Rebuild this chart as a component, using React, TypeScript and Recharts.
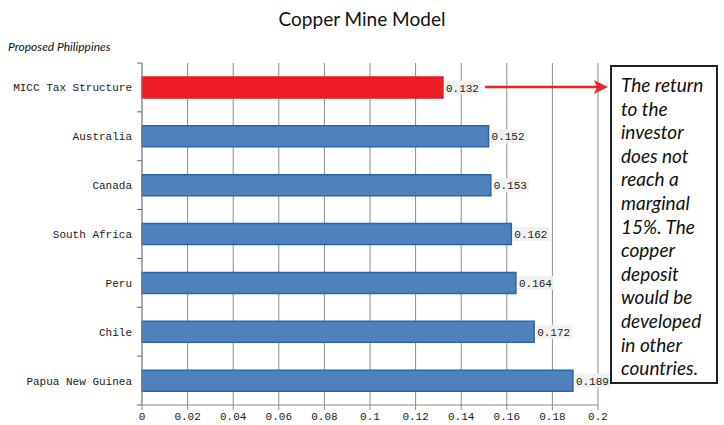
import { BarChart, Bar, XAxis, YAxis, CartesianGrid, Cell, LabelList } from 'recharts';

const countries = [
  'MICC Tax Structure',
  'Australia',
  'Canada',
  'South Africa',
  'Peru',
  'Chile',
  'Papua New Guinea',
];
const returns = [0.132, 0.152, 0.153, 0.162, 0.164, 0.172, 0.189];
const xTicks = [0, 0.02, 0.04, 0.06, 0.08, 0.1, 0.12, 0.14, 0.16, 0.18, 0.2];
const noteLines = [
  'The return',
  'to the',
  'investor',
  'does not',
  'reach a',
  'marginal',
  '15%. The',
  'copper',
  'deposit',
  'would be',
  'developed',
  'in other',
  'countries.',
];

const data = countries.map((name, i) => ({ name, value: returns[i] }));

const monoFont = '"Liberation Mono", "DejaVu Sans Mono", monospace';
const gridGrey = '#8c8c8c';

// layout of the plot box
const CHART_W = 724;
const CHART_H = 425;
const PLOT_TOP = 63;
const AXIS_W = 142;
const X_AXIS_H = 20;
const BAND = (CHART_H - PLOT_TOP - X_AXIS_H) / countries.length;

const ValueLabel = (props: any) => {
  const { x, y, width, height, value } = props;
  const lx = x + width + 3;
  const cy = y + height / 2;
  return (
    <g>
      <rect x={lx - 1} y={cy - 7} width={36} height={14} fill="#f1f1f1" />
      <text x={lx} y={cy + 4} fontFamily={monoFont} fontSize={11} fill="#222">
        {String(value)}
      </text>
    </g>
  );
};

// category label plus the small tick marks at the band edges
const CategoryTick = (props: any) => {
  const { y, payload, index } = props;
  const last = index === countries.length - 1;
  return (
    <g>
      <line x1={AXIS_W - 5} x2={AXIS_W} y1={y - BAND / 2} y2={y - BAND / 2} stroke="#666" />
      {last && (
        <line x1={AXIS_W - 5} x2={AXIS_W} y1={y + BAND / 2} y2={y + BAND / 2} stroke="#666" />
      )}
      <text
        x={AXIS_W - 10}
        y={y + 4}
        textAnchor="end"
        fontFamily={monoFont}
        fontSize={11}
        fill="#1a1a1a"
      >
        {payload.value}
      </text>
    </g>
  );
};

export default function App() {
  return (
    <div
      style={{
        position: 'absolute',
        left: 0,
        top: 0,
        width: CHART_W,
        height: CHART_H,
        background: '#fff',
        overflow: 'hidden',
      }}
    >
      <div
        style={{
          position: 'absolute',
          left: 0,
          top: 7,
          width: CHART_W,
          textAlign: 'center',
          fontFamily: 'Lato, "Open Sans", sans-serif',
          fontSize: 19,
          color: '#111',
        }}
      >
        Copper Mine Model
      </div>
      <div
        style={{
          position: 'absolute',
          left: 8,
          top: 39,
          fontFamily: 'Lato, "Open Sans", sans-serif',
          fontStyle: 'italic',
          fontSize: 12,
          color: '#111',
        }}
      >
        Proposed Philippines
      </div>
      <BarChart
        width={CHART_W}
        height={CHART_H}
        data={data}
        layout="vertical"
        margin={{ top: PLOT_TOP, right: 126, left: 0, bottom: 0 }}
        style={{ position: 'absolute', left: 0, top: 0 }}
      >
        <CartesianGrid horizontal={false} stroke={gridGrey} strokeWidth={1} />
        <XAxis
          type="number"
          domain={[0, 0.2]}
          ticks={xTicks}
          interval={0}
          height={X_AXIS_H}
          stroke={gridGrey}
          tickSize={5}
          tick={{ fontFamily: monoFont, fontSize: 11, fill: '#1a1a1a' }}
          tickFormatter={(v: number) => String(v)}
        />
        <YAxis
          type="category"
          dataKey="name"
          width={AXIS_W}
          stroke={gridGrey}
          tickLine={false}
          interval={0}
          tick={<CategoryTick />}
        />
        <Bar dataKey="value" barSize={21} isAnimationActive={false}>
          {data.map((d, i) => (
            <Cell
              key={d.name}
              fill={i === 0 ? '#ee1c25' : '#4f81bd'}
              stroke={i === 0 ? '#e31b23' : '#2a64ae'}
              strokeWidth={1.5}
            />
          ))}
          <LabelList dataKey="value" content={ValueLabel} />
        </Bar>
      </BarChart>
      <svg
        width={CHART_W}
        height={CHART_H}
        style={{ position: 'absolute', left: 0, top: 0, pointerEvents: 'none' }}
      >
        <line x1={485} y1={87} x2={597} y2={87} stroke="#e8262b" strokeWidth={2.5} />
        <polygon points="608,87 594,80 597,87 594,94" fill="#e8262b" />
      </svg>
      <div
        style={{
          position: 'absolute',
          left: 610,
          top: 65,
          width: 104,
          height: 315,
          border: '2px solid #222',
          boxSizing: 'content-box',
          background: '#fff',
          fontFamily: 'Lato, "Open Sans", sans-serif',
          fontStyle: 'italic',
          fontSize: 19,
          lineHeight: '23.6px',
          color: '#111',
        }}
      >
        <div style={{ padding: '6px 0 0 9px' }}>
          {noteLines.map((line) => (
            <div key={line} style={{ whiteSpace: 'nowrap' }}>
              {line}
            </div>
          ))}
        </div>
      </div>
    </div>
  );
}
